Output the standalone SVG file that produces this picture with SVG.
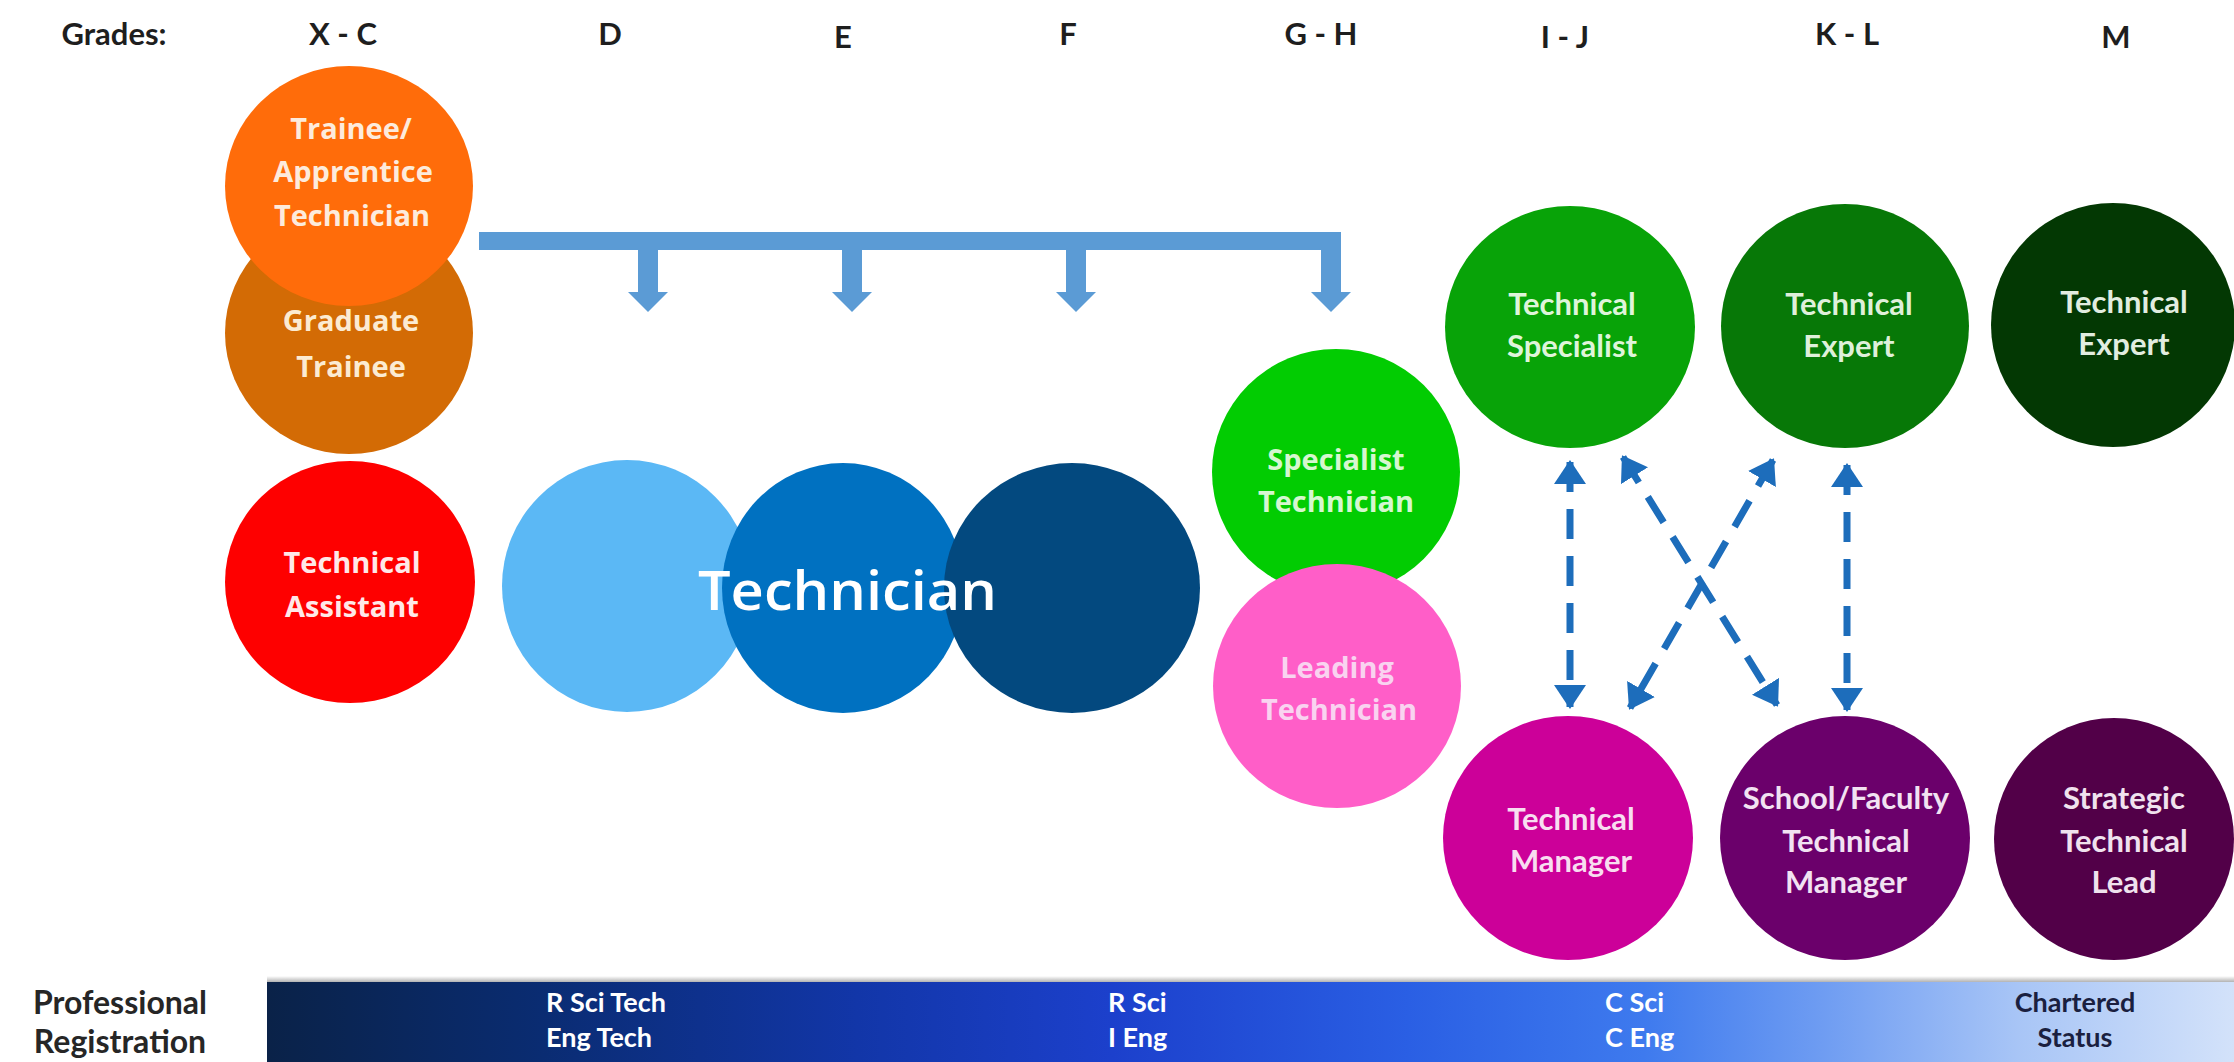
<svg xmlns="http://www.w3.org/2000/svg" width="2234" height="1062" viewBox="0 0 2234 1062">
<defs>
<linearGradient id="regGrad" x1="0" y1="0" x2="1" y2="0">
<stop offset="0" stop-color="#0A2248"/>
<stop offset="0.14" stop-color="#0A2C72"/>
<stop offset="0.3" stop-color="#1236A8"/>
<stop offset="0.43" stop-color="#1C40CC"/>
<stop offset="0.58" stop-color="#2A5FE4"/>
<stop offset="0.7" stop-color="#3E7AEE"/>
<stop offset="0.79" stop-color="#6E9CF2"/>
<stop offset="0.89" stop-color="#A8C5F6"/>
<stop offset="1" stop-color="#D3E2FA"/>
</linearGradient>
<linearGradient id="barShadow" x1="0" y1="0" x2="0" y2="1">
<stop offset="0" stop-color="#000" stop-opacity="0"/>
<stop offset="1" stop-color="#000" stop-opacity="0.35"/>
</linearGradient>
<marker id="ah" viewBox="0 0 24 32" refX="22" refY="16" markerWidth="24" markerHeight="32" markerUnits="userSpaceOnUse" orient="auto-start-reverse">
<path d="M0,0 L24,16 L0,32 Z" fill="#1D6DBB"/>
</marker>
<style>
.hdr{font-family:Lato,"Open Sans",sans-serif;font-weight:700;font-size:31px;fill:#1E1E1E;text-anchor:middle}
.lt{font-family:"Open Sans","Noto Sans",sans-serif;font-weight:700;font-size:29px;text-anchor:middle}
.rt{font-family:Lato,"Open Sans",sans-serif;font-weight:700;font-size:31px;text-anchor:middle}
.reg{font-family:Lato,"Open Sans",sans-serif;font-weight:700;font-size:27px;fill:#FFFFFF}
.regd{font-family:Lato,"Open Sans",sans-serif;font-weight:700;font-size:27px;fill:#1A1F40;text-anchor:middle}
.pr{font-family:Lato,"Open Sans",sans-serif;font-weight:700;font-size:32px;fill:#262626;text-anchor:middle}
.dash{fill:none;stroke:#1D6DBB;stroke-width:7;stroke-dasharray:30 17;marker-start:url(#ah);marker-end:url(#ah)}
</style>
</defs>
<rect x="0" y="0" width="2234" height="1062" fill="#FFFFFF"/>

<g id="headers">
<text class="hdr" x="114" y="45">Grades:</text>
<text class="hdr" x="343" y="45">X - C</text>
<text class="hdr" x="610" y="45">D</text>
<text class="hdr" x="843" y="48">E</text>
<text class="hdr" x="1068" y="45">F</text>
<text class="hdr" x="1321" y="45">G - H</text>
<text class="hdr" x="1565" y="48">I - J</text>
<text class="hdr" x="1847" y="45">K - L</text>
<text class="hdr" x="2116" y="48">M</text>
</g>

<g id="graduate-trainee">
<ellipse cx="349" cy="333" rx="124" ry="121" fill="#D36B05"/>
<text class="lt" fill="#FCEBD2" x="351" y="331">Graduate</text>
<text class="lt" fill="#FCEBD2" x="351" y="377">Trainee</text>
</g>
<g id="trainee-apprentice">
<ellipse cx="349" cy="186" rx="124" ry="120" fill="#FF6C0A"/>
<text class="lt" fill="#FDEBDC" x="351" y="139">Trainee/</text>
<text class="lt" fill="#FDEBDC" x="353" y="182">Apprentice</text>
<text class="lt" fill="#FDEBDC" x="352" y="226">Technician</text>
</g>
<g id="technical-assistant">
<ellipse cx="350" cy="582" rx="125" ry="121" fill="#FE0000"/>
<text class="lt" fill="#FFE8E8" x="352" y="573">Technical</text>
<text class="lt" fill="#FFE8E8" x="352" y="617">Assistant</text>
</g>

<g id="technician">
<ellipse cx="627" cy="586" rx="125" ry="126" fill="#5BB8F5"/>
<ellipse cx="843" cy="588" rx="121" ry="125" fill="#0071C1"/>
<ellipse cx="1072" cy="588" rx="128" ry="125" fill="#03497F"/>
<text x="698" y="610" font-family="'Open Sans','Noto Sans',sans-serif" font-weight="600" font-size="54" fill="#FFFFFF" textLength="299" lengthAdjust="spacingAndGlyphs">Technician</text>
</g>

<g id="specialist-technician">
<ellipse cx="1336" cy="472" rx="124" ry="123" fill="#02CC02"/>
<text class="lt" fill="#D6F7D0" x="1336" y="470">Specialist</text>
<text class="lt" fill="#D6F7D0" x="1336" y="512">Technician</text>
</g>
<g id="leading-technician">
<ellipse cx="1337" cy="686" rx="124" ry="122" fill="#FF5EC8"/>
<text class="lt" fill="#F9D3F0" x="1337" y="678">Leading</text>
<text class="lt" fill="#F9D3F0" x="1339" y="720">Technician</text>
</g>

<g id="technical-specialist">
<ellipse cx="1570" cy="327" rx="125" ry="121" fill="#08A308"/>
<text class="rt" fill="#DFF5DA" x="1572" y="315">Technical</text>
<text class="rt" fill="#DFF5DA" x="1572" y="357">Specialist</text>
</g>
<g id="technical-expert-kl">
<ellipse cx="1845" cy="326" rx="124" ry="122" fill="#077807"/>
<text class="rt" fill="#DFF0DA" x="1849" y="315">Technical</text>
<text class="rt" fill="#DFF0DA" x="1849" y="357">Expert</text>
</g>
<g id="technical-expert-m">
<ellipse cx="2113" cy="325" rx="122" ry="122" fill="#033803"/>
<text class="rt" fill="#E2EDE0" x="2124" y="313">Technical</text>
<text class="rt" fill="#E2EDE0" x="2124" y="355">Expert</text>
</g>

<g id="technical-manager">
<ellipse cx="1568" cy="838" rx="125" ry="122" fill="#CC0099"/>
<text class="rt" fill="#F8DDF0" x="1571" y="830">Technical</text>
<text class="rt" fill="#F8DDF0" x="1571" y="872">Manager</text>
</g>
<g id="school-faculty-technical-manager">
<ellipse cx="1845" cy="838" rx="125" ry="122" fill="#6B006B"/>
<text class="rt" fill="#F2E2F2" x="1846" y="809">School/Faculty</text>
<text class="rt" fill="#F2E2F2" x="1846" y="852">Technical</text>
<text class="rt" fill="#F2E2F2" x="1846" y="893">Manager</text>
</g>
<g id="strategic-technical-lead">
<ellipse cx="2114" cy="839" rx="120" ry="121" fill="#520048"/>
<text class="rt" fill="#F0E2EE" x="2124" y="809">Strategic</text>
<text class="rt" fill="#F0E2EE" x="2124" y="852">Technical</text>
<text class="rt" fill="#F0E2EE" x="2124" y="893">Lead</text>
</g>

<g id="connectors">
<path d="M479,232 H1341 V292 H1351 L1331,312 L1311,292 H1321 V250 H1086 V292 H1096 L1076,312 L1056,292 H1066 V250 H862 V292 H872 L852,312 L832,292 H842 V250 H658 V292 H668 L648,312 L628,292 H638 V250 H479 Z" fill="#5B9BD5"/>
<line class="dash" x1="1570" y1="462" x2="1570" y2="707"/>
<line class="dash" x1="1847" y1="465" x2="1847" y2="710"/>
<line class="dash" x1="1623" y1="457" x2="1777" y2="705"/>
<line class="dash" x1="1773" y1="460" x2="1630" y2="708"/>
</g>

<g id="professional-registration">
<rect x="267" y="976" width="1967" height="7" fill="url(#barShadow)"/>
<rect x="267" y="982" width="1967" height="80" fill="url(#regGrad)"/>
<text class="pr" x="120" y="1014">Professional</text>
<text class="pr" x="120" y="1053">Registration</text>
<text class="reg" x="546" y="1012">R Sci Tech</text>
<text class="reg" x="546" y="1047">Eng Tech</text>
<text class="reg" x="1108" y="1012">R Sci</text>
<text class="reg" x="1108" y="1047">I Eng</text>
<text class="reg" x="1605" y="1012">C Sci</text>
<text class="reg" x="1605" y="1047">C Eng</text>
<text class="regd" x="2075" y="1012">Chartered</text>
<text class="regd" x="2075" y="1047">Status</text>
</g>
</svg>
